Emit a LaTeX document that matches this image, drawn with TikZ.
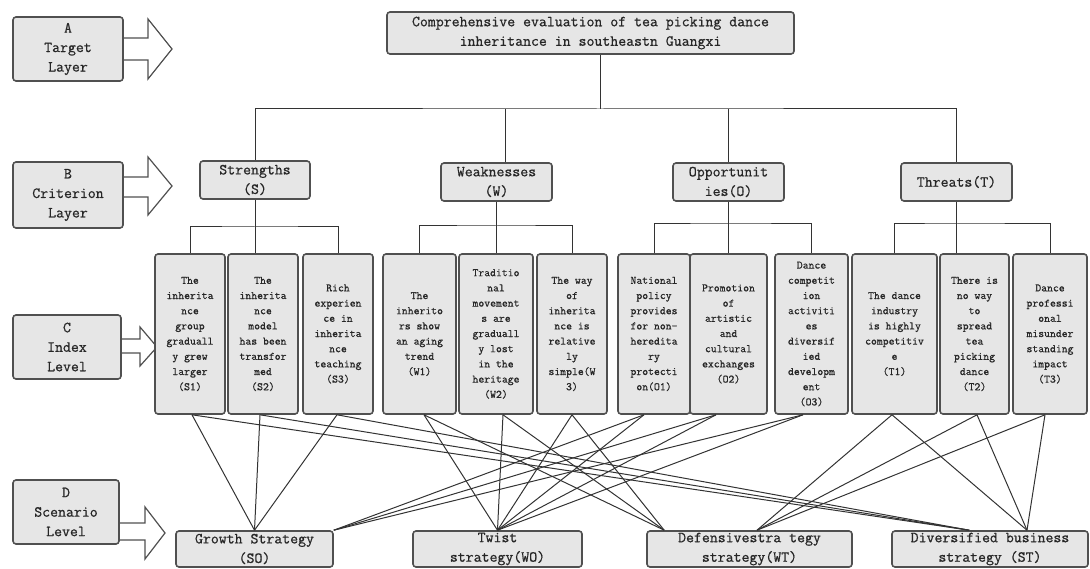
\documentclass[tikz,border=0pt]{standalone}
\usepackage{fontspec}
\setmonofont{Latin Modern Mono}[FakeBold=0.7]
\usetikzlibrary{calc}
\definecolor{boxfill}{HTML}{E6E6E6}
\definecolor{boxline}{HTML}{505050}
\definecolor{linkc}{HTML}{333333}
\definecolor{ink}{HTML}{262626}
\begin{document}
\begin{tikzpicture}[x=1pt,y=-1pt,
  box/.style={draw=boxline, fill=boxfill, line width=1.6pt, rounded corners=3pt,
    inner sep=0pt, align=center, text=ink},
  bigtext/.style={font=\fontsize{15.4}{19.5}\selectfont\ttfamily},
  smalltext/.style={font=\fontsize{11.4}{15.2}\selectfont\ttfamily},
  layerbox/.style={box, bigtext, minimum height=64pt},
  critbox/.style={box, bigtext, minimum width=111pt, minimum height=38pt},
  idxbox/.style={box, smalltext, minimum height=160pt},
  scenbox/.style={box, bigtext, minimum height=36pt},
  link/.style={draw=linkc, line width=1pt},
  blockarrow/.style={draw=boxline, fill=white, line width=1.2pt, line join=miter}
]
\useasboundingbox (0,0) rectangle (1090,569);

% ---- block arrows pointing from the layer labels into the hierarchy
\draw[blockarrow] (116,38) -- (148,38) -- (148,19) -- (172,49) -- (148,79) -- (148,60) -- (116,60) -- cycle;
\draw[blockarrow] (116,177) -- (148,177) -- (148,157) -- (172,186) -- (148,215) -- (148,197) -- (116,197) -- cycle;
\draw[blockarrow] (114,339) -- (140,339) -- (140,327) -- (157,347) -- (140,366) -- (140,353) -- (114,353) -- cycle;
\draw[blockarrow] (112,523) -- (145,523) -- (145,507) -- (165,533) -- (145,559) -- (145,540) -- (112,540) -- cycle;

% ---- layer labels
\node[layerbox, minimum width=110pt] (LA) at (68,49)  {A\\Target\\Layer};
\node[layerbox, minimum width=110pt, minimum height=66pt] (LB) at (68,195) {B\\Criterion\\Layer};
\node[layerbox, minimum width=108pt] (LC) at (67,347) {C\\Index\\Level};
\node[layerbox, minimum width=106pt] (LD) at (66,512) {D\\Scenario\\Level};

% ---- goal
\node[box, bigtext, minimum width=407pt, minimum height=42pt] (Top) at (590.5,33)
  {Comprehensive evaluation of tea picking dance\\inheritance in southeastn Guangxi};

% ---- criteria
\node[critbox, minimum width=110pt] (S) at (255,180)   {Strengths\\(S)};
\node[critbox] (W) at (496.5,182) {Weaknesses\\(W)};
\node[critbox] (O) at (728.5,182) {Opportunit\\ies(O)};
\node[critbox] (T) at (956.5,182) {Threats(T)};

% ---- indices
\node[idxbox, minimum width=70pt] (S1) at (190,334)   {The\\inherita\\nce\\group\\graduall\\y grew\\larger\\(S1)};
\node[idxbox, minimum width=70pt] (S2) at (263,334)   {The\\inherita\\nce\\model\\has been\\transfor\\med\\(S2)};
\node[idxbox, minimum width=70pt] (S3) at (338,334)   {Rich\\experien\\ce in\\inherita\\nce\\teaching\\(S3)};
\node[idxbox, minimum width=73pt] (W1) at (419.5,334) {The\\inherito\\rs show\\an aging\\trend\\(W1)};
\node[idxbox, minimum width=74pt] (W2) at (496,334)   {Traditio\\nal\\movement\\s are\\graduall\\y lost\\in the\\heritage\\(W2)};
\node[idxbox, minimum width=70pt] (W3) at (572,334)   {The way\\of\\inherita\\nce is\\relative\\ly\\simple(W\\3)};
\node[idxbox, minimum width=72pt] (O1) at (654,334)   {National\\policy\\provides\\for non-\\heredita\\ry\\protecti\\on(O1)};
\node[idxbox, minimum width=77pt] (O2) at (728.5,334) {Promotion\\of\\artistic\\and\\cultural\\exchanges\\(O2)};
\node[idxbox, minimum width=73pt] (O3) at (811.5,334) {Dance\\competit\\ion\\activiti\\es\\diversif\\ied\\developm\\ent\\(O3)};
\node[idxbox, minimum width=85pt] (T1) at (894.5,334) {The dance\\industry\\is highly\\competitiv\\e\\(T1)};
\node[idxbox, minimum width=69pt] (T2) at (974.5,334) {There is\\no way\\to\\spread\\tea\\picking\\dance\\(T2)};
\node[idxbox, minimum width=74pt] (T3) at (1050,334)  {Dance\\professi\\onal\\misunder\\standing\\impact\\(T3)};

% ---- scenarios
\node[scenbox, minimum width=157pt] (SO) at (254.5,549) {Growth Strategy\\(SO)};
\node[scenbox, minimum width=169pt] (WO) at (497.5,549) {Twist\\strategy(WO)};
\node[scenbox, minimum width=205pt] (WT) at (749.5,549) {Defensivestra tegy\\strategy(WT)};
\node[scenbox, minimum width=196pt] (ST) at (990,549)   {Diversified business\\strategy (ST)};

% ---- tree: goal to criteria
\coordinate (hub) at (600,109);
\draw[link] (Top.south -| hub) -- (hub);
\draw[link] (S.north) |- (hub) -| (T.north);
\draw[link] ([xshift=8.5pt]W.north) -- ([xshift=8.5pt]W.north |- hub);
\draw[link] (O.north) -- (O.north |- hub);

% ---- tree: criteria to indices
\coordinate (barS) at (0,227);
\coordinate (barW) at (0,226);
\coordinate (barO) at (0,224);
\coordinate (barT) at (0,224);
\foreach \c/\a/\b/\m in {S/S1/S3/S2, W/W1/W3/W2, O/O1/O3/O2, T/T1/T3/T2}{
  \draw[link] (\c.south) -- (\c.south |- \m.north);
  \draw[link] (\a.north) |- (\c.south |- bar\c) -| (\b.north);
}

% ---- indices to scenarios
\foreach \n/\dx in {S1/2, S2/-3, S3/-1}{
  \draw[link] ([xshift=\dx pt]\n.south) -- (SO.north);
  \draw[link] ([xshift=\dx pt]\n.south) -- ([xshift=78pt]ST.north west);
}
\foreach \n/\dx in {W1/4.5, W2/7, W3/0}{
  \draw[link] ([xshift=\dx pt]\n.south) -- (WO.north);
  \draw[link] ([xshift=\dx pt]\n.south) -- ([xshift=18pt]WT.north west);
}
\foreach \n/\dx in {O1/-10, O2/-12.5, O3/-8.5}{
  \draw[link] ([xshift=\dx pt]\n.south) -- (SO.north east);
  \draw[link] ([xshift=\dx pt]\n.south) -- (WO.north);
}
\foreach \n/\dx in {T1/-2.5, T2/2.5, T3/-5}{
  \draw[link] ([xshift=\dx pt]\n.south) -- ([xshift=7.5pt]WT.north);
  \draw[link] ([xshift=\dx pt]\n.south) -- ([xshift=37pt]ST.north);
}
\end{tikzpicture}
\end{document}
